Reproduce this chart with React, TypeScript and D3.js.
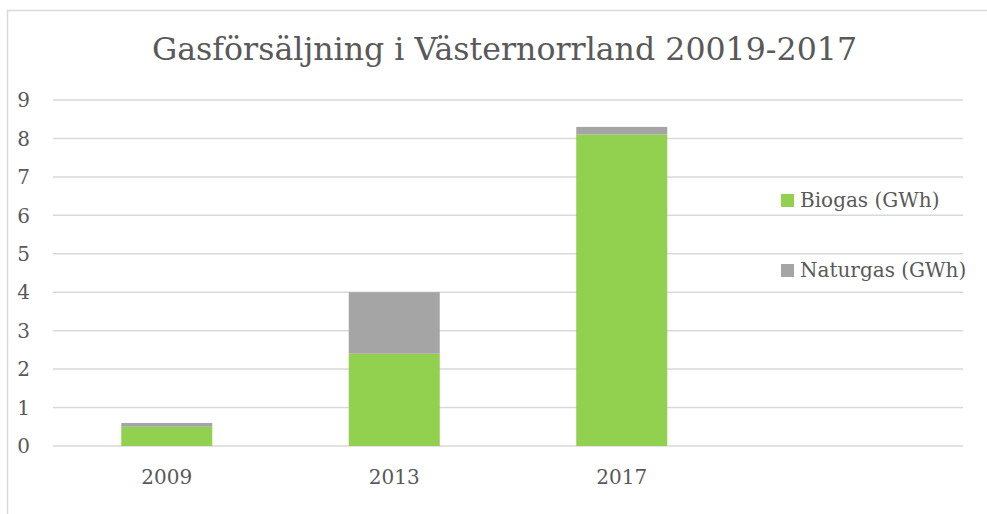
import React from "react";
import * as d3 from "d3";

const categories = ["2009", "2013", "2017", ""];
const biogas = [0.5, 2.4, 8.1, 0];
const naturgas = [0.1, 1.6, 0.2, 0];
const seriesNames = ["Biogas (GWh)", "Naturgas (GWh)"];
const yTicks = [0, 1, 2, 3, 4, 5, 6, 7, 8, 9];
const title = "Gasförsäljning i Västernorrland 20019-2017";

const colors = ["#92D050", "#A5A5A5"];
const textColor = "#595959";
const gridColor = "#D9D9D9";
const font = "'DejaVu Serif', 'Liberation Serif', serif";

export default function App() {
  const W = 987, H = 514;
  const left = 53, right = 963, top = 100, bottom = 446;
  const x = d3.scaleBand<string>().domain(categories.map((c, i) => i + "")).range([left, right]).paddingInner(0.6).paddingOuter(0.3);
  const y = d3.scaleLinear().domain([0, 9]).range([bottom, top]);
  const stack = d3.stack<any>().keys(["b", "n"]);
  const rows = categories.map((c, i) => ({ b: biogas[i], n: naturgas[i], i }));
  const layers = stack(rows);

  return (
    <svg width={W} height={H} style={{ position: "absolute", left: 0, top: 0, background: "#fff" }}>
      <rect x={0} y={0} width={W} height={H} fill="#fff" />
      <rect x={7.5} y={10.5} width={1000} height={600} fill="none" stroke={gridColor} strokeWidth={1.5} />
      <text x={504.5} y={60} textAnchor="middle" fontFamily={font} fontSize={31} fill={textColor} textLength={705} lengthAdjust="spacingAndGlyphs">{title}</text>
      {yTicks.map((t) => (
        <g key={t}>
          <line x1={left} x2={right} y1={y(t)} y2={y(t)} stroke={gridColor} strokeWidth={1.5} />
          <text x={30} y={y(t)} dy="0.36em" textAnchor="end" fontFamily={font} fontSize={20} fill={textColor}>{t}</text>
        </g>
      ))}
      {layers.map((layer, li) => (
        <g key={li}>
          {layer.map((d, i) => (
            d[1] - d[0] > 0 ? (
              <rect key={i} x={x(i + "")} width={x.bandwidth()} y={y(d[1])} height={y(d[0]) - y(d[1])} fill={colors[li]} />
            ) : null
          ))}
        </g>
      ))}
      {categories.map((c, i) => (
        <text key={i} x={(x(i + "") as number) + x.bandwidth() / 2} y={484} textAnchor="middle" fontFamily={font} fontSize={20} fill={textColor}>{c}</text>
      ))}
      {seriesNames.map((s, i) => (
        <g key={s} transform={`translate(781, ${194 + i * 70})`}>
          <rect x={0} y={0} width={13} height={13} fill={colors[i]} />
          <text x={19} y={13} fontFamily={font} fontSize={20} fill={textColor}>{s}</text>
        </g>
      ))}
    </svg>
  );
}
